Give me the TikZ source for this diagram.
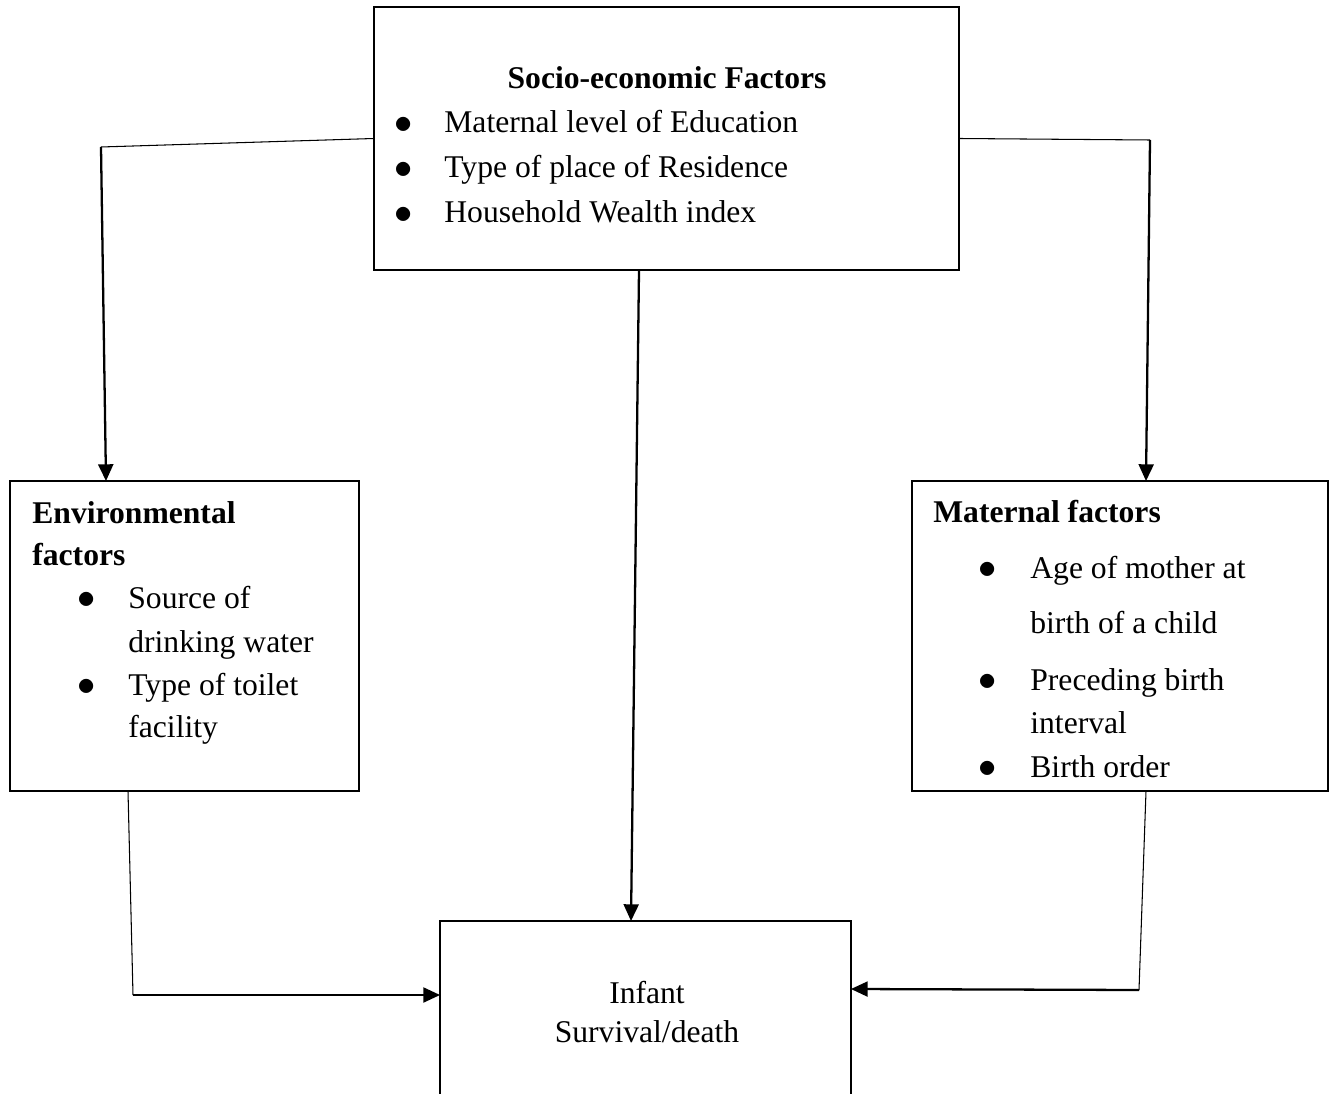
\documentclass[tikz,border=0pt]{standalone}
\usepackage{fontspec}
\setmainfont{Liberation Serif}
\usetikzlibrary{arrows.meta}

\begin{document}
\begin{tikzpicture}[x=0.02cm, y=-0.02cm,
        box/.style={draw, line width=1.3pt, inner sep=0pt, outer sep=0pt},
        txt/.style={anchor=base west, inner sep=0pt, font=\fontsize{18}{22}\selectfont},
        dot/.style={anchor=center, inner sep=0pt, font=\fontsize{22}{24}\selectfont},
        arr/.style={line width=1.3pt, -{Triangle[width=8.5pt, length=9.5pt]}},
        link/.style={line width=0.6pt}]
            \useasboundingbox (0,0) rectangle (1335,1094);

            \node[box, minimum width=11.70cm, minimum height=5.26cm] (socio) at (666.5, 138.5) {};
            \node[box, minimum width=6.98cm, minimum height=6.2cm] (env) at (184.5, 636) {};
            \node[box, minimum width=8.32cm, minimum height=6.2cm] (mat) at (1120, 636) {};
            \node[box, minimum width=8.22cm, minimum height=3.98cm] (infant) at (645.5, 1020.5) {};

            \node[txt, anchor=base, font=\fontsize{18}{22}\selectfont\bfseries] (sociot) at (667, 89) {Socio-economic Factors};
            \node[dot] (s1) at (404, 125) {$\bullet$};
            \node[txt] (s1t) at (444, 133) {Maternal level of Education};
            \node[dot] (s2) at (404, 170) {$\bullet$};
            \node[txt] (s2t) at (444, 178) {Type of place of Residence};
            \node[dot] (s3) at (404, 215) {$\bullet$};
            \node[txt] (s3t) at (444, 223) {Household Wealth index};

            \node[txt, font=\fontsize{18}{22}\selectfont\bfseries] (envt) at (32, 523) {Environmental};
            \node[txt, font=\fontsize{18}{22}\selectfont\bfseries] (envt2) at (32, 565) {factors};
            \node[dot] (e1) at (87, 600) {$\bullet$};
            \node[txt] (e1t) at (128, 608) {Source of};
            \node[txt] (e1t2) at (128, 652) {drinking water};
            \node[dot] (e2) at (87, 687) {$\bullet$};
            \node[txt] (e2t) at (128, 695) {Type of toilet};
            \node[txt] (e2t2) at (128, 737) {facility};

            \node[txt, font=\fontsize{18}{22}\selectfont\bfseries] (matt) at (933, 522) {Maternal factors};
            \node[dot] (m1) at (988, 570) {$\bullet$};
            \node[txt] (m1t) at (1030, 578) {Age of mother at};
            \node[txt] (m1t2) at (1030, 633) {birth of a child};
            \node[dot] (m2) at (988, 682) {$\bullet$};
            \node[txt] (m2t) at (1030, 690) {Preceding birth};
            \node[txt] (m2t2) at (1030, 733) {interval};
            \node[dot] (m3) at (988, 769) {$\bullet$};
            \node[txt] (m3t) at (1030, 777) {Birth order};

            \node[txt, anchor=base] (inft) at (647, 1003) {Infant};
            \node[txt, anchor=base] (inft2) at (647, 1042) {Survival/death};

            \coordinate (lbend) at (101, 147);
            \coordinate (lend) at (106, 481);
            \coordinate (rbend) at (1150, 140);
            \coordinate (rend) at (1146, 481);
            \coordinate (mtop) at (639, 270);
            \coordinate (mend) at (631, 921);
            \coordinate (eout) at (128, 791);
            \coordinate (ebend) at (133, 995);
            \coordinate (mout) at (1146, 791);
            \coordinate (mbend) at (1139, 990);

            \draw[link] (socio.west) -- (lbend);
            \draw[arr] (lbend) -- (lend);
            \draw[link] (socio.east) -- (rbend);
            \draw[arr] (rbend) -- (rend);
            \draw[arr] (mtop) -- (mend);
            \draw[link] (eout) -- (ebend);
            \draw[arr] (ebend) -- (ebend -| infant.west);
            \draw[link] (mout) -- (mbend);
            \draw[arr] (mbend) -- (infant.east |- 989,989);
        \end{tikzpicture}
\end{document}
